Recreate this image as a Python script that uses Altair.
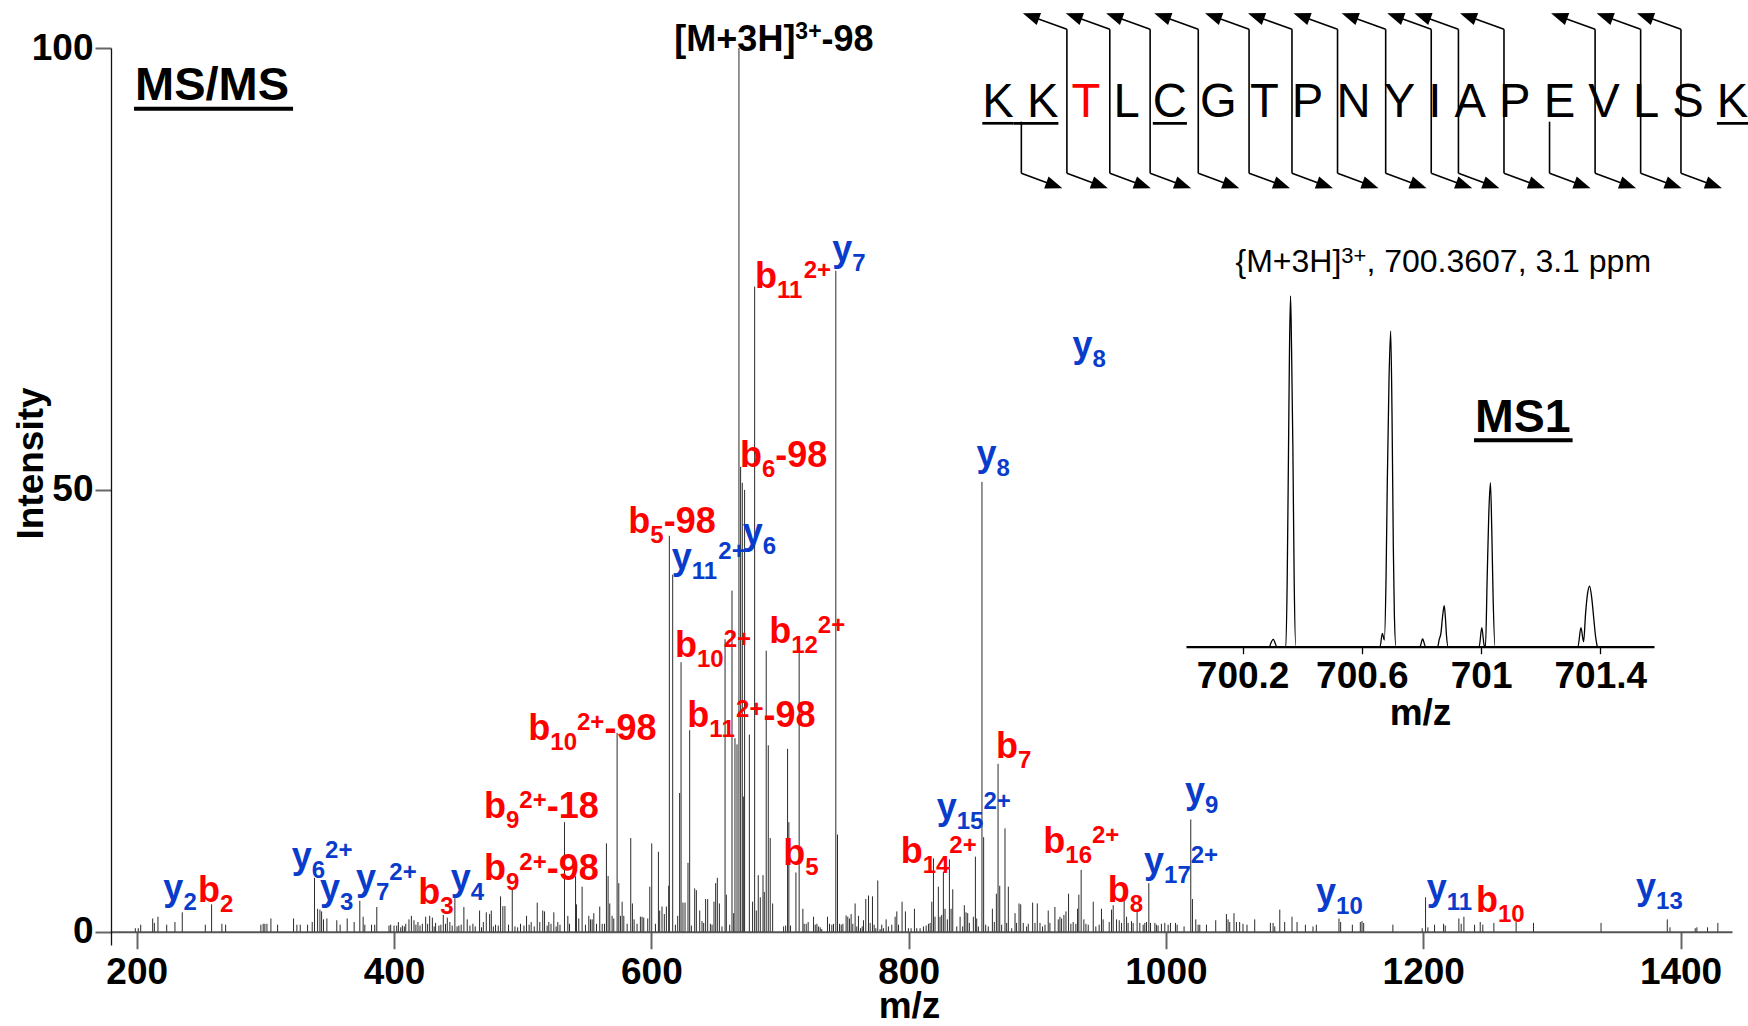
import math
import altair as alt
import pandas as pd

FONT = "Liberation Sans"
RED = "#ff0000"
BLUE = "#0a3ccc"
BLACK = "#000000"
STICK = "#2b2b2b"

# ---------------------------------------------------------------- MS/MS peaks
# centroided fragment spectrum: (m/z, relative intensity %)
peaks_200_530 = [
    (198.9, 0.4), (201.2, 0.4), (203.1, 0.8), (212.4, 1.5), (213.7, 1.0), (216.5, 1.7),
    (223.3, 0.8), (229.7, 1.1), (235.4, 2.2), (253.3, 0.8), (258.2, 3.1), (266.2, 0.9),
    (269.1, 0.8), (296.5, 0.8), (298.3, 0.9), (299.6, 0.9), (301.2, 0.9), (304.3, 1.5),
    (309.5, 0.8), (321.9, 1.5), (324.5, 0.8), (327.1, 0.8), (332.8, 0.8), (336.4, 1.1),
    (338.2, 6.1), (340.6, 2.6), (342.4, 2.5), (343.7, 2.3), (345.2, 1.4), (347.8, 1.5),
    (355.5, 1.3), (358.1, 0.8), (363.6, 1.5), (369.0, 1.1), (373.4, 3.5), (376.0, 1.7),
    (377.3, 0.8), (382.5, 0.8), (385.0, 0.8), (386.6, 2.8), (396.1, 0.7), (397.4, 0.8),
    (400.0, 0.7), (402.1, 0.7), (403.4, 1.1), (405.2, 0.5), (406.5, 0.7), (408.0, 0.6),
    (409.1, 0.9), (411.6, 1.4), (413.5, 1.8), (415.5, 1.3), (417.0, 0.8), (418.6, 1.1),
    (420.2, 0.7), (422.0, 0.9), (424.6, 1.7), (426.1, 0.9), (427.7, 1.8), (429.8, 1.6),
    (431.2, 0.6), (432.3, 1.0), (434.9, 0.7), (436.4, 0.8), (438.3, 1.9), (440.0, 0.9),
    (441.4, 1.6), (443.4, 1.1), (445.2, 0.7), (447.3, 3.8), (449.0, 0.6), (450.4, 0.7),
    (452.2, 0.8), (454.3, 2.8), (456.9, 1.4), (459.0, 0.7), (461.3, 0.9), (463.1, 0.6),
    (466.5, 2.4), (468.0, 0.5), (469.4, 1.1), (471.7, 2.2), (474.3, 2.0), (475.6, 2.4),
    (477.2, 0.6), (478.9, 0.8), (481.0, 0.7), (482.8, 4.0), (484.6, 2.9), (486.2, 2.9),
    (489.0, 0.8), (491.9, 4.8), (494.0, 0.6), (496.1, 0.5), (498.3, 0.9), (501.0, 0.7),
    (503.0, 1.8), (505.0, 0.8), (506.6, 1.1), (509.0, 0.6), (511.3, 3.3), (513.3, 1.1),
    (515.6, 2.4), (517.0, 2.3), (519.0, 0.7), (520.3, 1.1), (522.0, 0.9), (524.2, 2.2),
    (526.0, 0.6), (527.3, 1.1), (529.0, 0.8),
]
peaks_530_716 = [
    (532.5, 12.4), (535.1, 1.8), (536.4, 0.9), (541.1, 6.3), (541.8, 3.1), (543.6, 1.5),
    (546.2, 5.1), (548.8, 0.8), (551.4, 1.8), (552.7, 1.4), (554.0, 1.4), (555.3, 2.1),
    (557.4, 0.9), (559.9, 2.85), (561.8, 0.9), (563.6, 0.9), (565.1, 10.0), (566.4, 6.3),
    (567.7, 3.2), (569.5, 1.8), (570.8, 1.5), (573.4, 22.5), (574.7, 5.5), (576.0, 1.8),
    (577.3, 3.4), (578.6, 1.8), (581.2, 0.9), (584.0, 10.6), (585.3, 3.2), (586.6, 1.4),
    (588.9, 0.9), (591.5, 1.7), (592.8, 1.7), (594.1, 1.6), (597.2, 1.5), (598.8, 5.1),
    (600.3, 10.0), (603.2, 0.9), (605.5, 9.05), (606.5, 2.4), (608.3, 2.85), (610.1, 2.0),
    (611.7, 2.85), (613.5, 5.2), (614.0, 44.8), (616.6, 40.4), (618.7, 0.8), (620.5, 1.8),
    (622.0, 15.7), (623.1, 30.5), (624.6, 3.3), (626.2, 3.3), (628.5, 7.8), (629.8, 22.8),
    (631.1, 0.7), (633.7, 4.9), (635.0, 4.7), (637.6, 2.4), (639.4, 1.2), (640.7, 1.0),
    (642.2, 3.7), (643.8, 3.7), (645.9, 0.9), (647.2, 0.8), (648.7, 3.4), (650.0, 5.5),
    (651.3, 6.1), (652.9, 3.2), (654.9, 0.6), (657.3, 33.1), (658.3, 4.2), (660.9, 0.8),
    (662.7, 38.6), (664.0, 2.1), (665.0, 21.9), (666.6, 21.2), (668.1, 100.0), (669.4, 52.6),
    (670.7, 50.8), (671.5, 15.3), (672.5, 50.0), (676.2, 22.3), (678.7, 3.4), (680.3, 73.0),
    (681.6, 2.4), (683.1, 6.4), (684.7, 3.9), (686.8, 6.4), (687.8, 4.5), (689.3, 31.8),
    (690.9, 21.1), (692.4, 10.6), (694.3, 3.2), (702.8, 0.6), (704.4, 0.7), (705.9, 20.7),
    (706.9, 12.4), (708.2, 0.7), (712.4, 6.7), (714.9, 31.6),
]
peaks_716_1073 = [
    (717.8, 2.6), (718.8, 0.9), (720.4, 0.9), (721.9, 1.1), (726.1, 1.7), (727.4, 0.8),
    (728.7, 0.9), (730.0, 0.6), (731.3, 0.5), (732.5, 0.3), (736.9, 1.7), (738.5, 0.9),
    (740.3, 0.8), (741.6, 0.9), (743.4, 74.8), (744.7, 11.0), (746.3, 0.9), (747.6, 0.8),
    (748.9, 0.9), (751.4, 1.85), (752.7, 1.7), (754.0, 1.5), (755.3, 2.0), (756.6, 0.9),
    (758.4, 3.2), (759.7, 0.6), (761.0, 1.8), (762.6, 0.4), (763.9, 0.6), (764.9, 1.3),
    (766.7, 3.7), (768.8, 4.1), (770.1, 1.0), (771.9, 4.0), (773.2, 0.8), (774.5, 0.4),
    (776.0, 5.8), (777.8, 0.3), (779.1, 0.8), (780.4, 0.4), (782.5, 1.4), (784.3, 0.6),
    (786.9, 0.8), (789.5, 1.7), (790.8, 2.3), (792.1, 0.8), (794.9, 3.4), (797.5, 2.3),
    (799.8, 0.4), (801.9, 0.4), (804.5, 2.6), (806.3, 0.4), (808.9, 0.4), (811.5, 0.6),
    (813.6, 0.7), (815.4, 0.9), (816.7, 1.0), (818.0, 3.4), (819.3, 8.3), (820.5, 1.7),
    (823.1, 5.1), (824.4, 1.7), (825.7, 1.9), (827.0, 6.8), (828.3, 2.6), (830.1, 1.4),
    (831.7, 8.2), (833.0, 2.6), (834.3, 4.8), (837.4, 0.6), (840.0, 1.7), (842.0, 0.6),
    (843.3, 3.0), (844.6, 2.2), (845.9, 2.1), (847.2, 1.0), (850.3, 1.7), (851.9, 8.5),
    (852.9, 1.5), (854.2, 0.6), (857.0, 50.9), (858.3, 10.7), (859.9, 0.8), (861.9, 0.6),
    (865.1, 2.6), (866.6, 1.1), (868.2, 4.3), (869.5, 19.0), (870.8, 5.2), (872.3, 0.8),
    (874.9, 11.7), (876.2, 1.0), (877.5, 5.1), (880.1, 0.4), (882.7, 2.1), (883.9, 1.0),
    (885.8, 3.2), (887.1, 3.1), (889.1, 1.0), (891.7, 0.6), (893.0, 0.9), (896.4, 3.3),
    (898.2, 1.0), (900.0, 3.2), (902.1, 1.0), (904.1, 0.6), (906.0, 0.8), (908.5, 2.4),
    (909.8, 1.0), (913.7, 2.8), (916.3, 1.4), (917.6, 1.7), (918.9, 1.5), (920.7, 1.9),
    (922.3, 2.3), (924.3, 4.3), (926.1, 0.9), (927.9, 1.1), (930.0, 0.9), (931.3, 2.6),
    (932.3, 4.2), (934.1, 7.0), (936.2, 1.4), (937.8, 0.9), (939.6, 0.8), (943.5, 3.4),
    (945.5, 0.6), (948.1, 0.8), (949.9, 2.6), (951.2, 1.4), (955.9, 1.1), (957.7, 2.5),
    (959.0, 3.0), (961.6, 1.4), (963.7, 1.3), (965.5, 1.0), (967.5, 3.6), (969.4, 1.7),
    (970.6, 1.0), (973.2, 1.2), (974.5, 1.0), (977.6, 2.6), (979.7, 1.0), (982.3, 0.8),
    (983.6, 1.0), (984.9, 1.1), (986.7, 5.5), (988.0, 1.0), (991.4, 1.0), (992.6, 0.8),
    (993.9, 0.7), (996.5, 0.9), (999.1, 1.0), (1001.7, 0.8), (1003.5, 1.0), (1007.4, 1.0),
    (1008.7, 0.8), (1014.1, 0.6), (1019.3, 12.7), (1020.6, 3.7), (1023.2, 1.4), (1025.0, 0.8),
    (1026.3, 0.8), (1031.5, 0.8), (1038.7, 1.3), (1047.0, 2.0), (1048.3, 1.4), (1049.6, 1.1),
    (1052.9, 2.1), (1054.8, 1.1), (1057.3, 1.1), (1059.9, 0.9), (1063.0, 0.8), (1069.0, 1.4),
]
peaks_1073_1440 = [
    (1081.2, 1.0), (1083.3, 1.0), (1084.6, 0.6), (1088.5, 2.5), (1092.3, 1.1), (1098.0, 1.7),
    (1101.9, 1.1), (1108.4, 0.8), (1114.3, 0.6), (1116.9, 0.8), (1134.5, 1.5), (1135.8, 1.1),
    (1144.9, 0.8), (1151.1, 1.1), (1152.4, 1.2), (1153.7, 1.0), (1176.4, 0.8), (1199.2, 0.4),
    (1201.8, 3.9), (1203.6, 0.5), (1208.8, 0.8), (1215.8, 0.9), (1217.1, 0.7), (1227.7, 1.5),
    (1229.5, 0.9), (1231.6, 1.7), (1239.9, 0.8), (1244.3, 1.1), (1246.3, 0.8), (1254.9, 1.0),
    (1272.2, 1.1), (1285.7, 1.0), (1338.2, 1.0), (1389.7, 1.4), (1391.8, 0.5), (1411.4, 0.4),
    (1412.7, 0.5), (1421.0, 0.5), (1429.0, 1.0),
]

# ------------------------------------------------------- assigned fragment ions
ion_kind = ["y", "b", "y", "y", "y", "b", "y", "b", "b", "b", "b", "y", "y", "b", "b", "b", "b",
            "b", "b", "y", "y", "b", "b", "b", "y", "y", "b", "y", "y", "b", "y", "y", "y"]
ion_number = ["2", "2", "6", "3", "7", "3", "4", "9", "9", "10", "5", "11", "6", "10", "11", "12", "5",
              "6", "11", "7", "15", "14", "16", "8", "17", "9", "7", "10", "11", "10", "13", "8", "8"]
ion_charge = ["", "", "2+", "", "2+", "", "", "2+", "2+", "2+", "", "2+", "", "2+", "2+", "2+", "",
              "", "2+", "", "2+", "2+", "2+", "", "2+", "", "", "", "", "", "", "", ""]
ion_loss = ["", "", "", "", "", "", "", "-98", "-18", "-98", "-98", "", "", "", "-98", "", "",
            "-98", "", "", "", "", "", "", "", "", "", "", "", "", "", "", ""]
# where each annotation sits: left edge (m/z) and text baseline (intensity)
ion_label_mz = [220.7, 247.6, 320.5, 342.5, 370.4, 418.9, 444.0, 469.9, 469.9, 504.4, 582.1,
                615.8, 671.0, 618.4, 628.0, 691.6, 702.6, 668.9, 680.6, 740.7, 821.8, 793.8,
                904.7, 954.7, 983.0, 1014.8, 867.9, 1116.7, 1202.7, 1241.0, 1365.4, 927.3, 852.8]
ion_label_int = [3.55, 3.40, 7.21, 3.60, 4.72, 3.14, 4.78, 5.86, 12.84, 21.70, 45.08,
                 41.08, 43.87, 31.12, 23.20, 32.67, 7.55, 52.62, 72.81, 75.95, 12.72, 7.83,
                 8.94, 3.40, 6.61, 14.53, 19.69, 3.14, 3.60, 2.27, 3.68, 65.03, 52.70]
precursor_label = ("[M+3H]", "3+", "-98")
precursor_label_at = (617.9, 99.69)

# -------------------------------------------------- MS1 isotope envelope (profile)
ms1_mz = [700.2905, 700.3028, 700.3150,
          700.3450, 700.3495, 700.3540, 700.3573, 700.3607, 700.3640, 700.3685, 700.3729, 700.3785,
          700.6609, 700.6687, 700.6754, 700.6810, 700.6854, 700.6910, 700.6966, 700.7011,
          700.7055, 700.7089, 700.7145,
          700.7948, 700.8037, 700.8138,
          700.8540, 700.8595, 700.8651, 700.8707, 700.8763, 700.8807, 700.8841, 700.8896,
          700.9934, 701.0023, 701.0101, 701.0146, 701.0202, 701.0258, 701.0313, 701.0358,
          701.0402, 701.0469,
          701.3248, 701.3349, 701.3438, 701.3505, 701.3572, 701.3639, 701.3706, 701.3784,
          701.3840, 701.3896]
ms1_rel = [0, 2.1, 0,
           0, 19.0, 57.0, 85.6, 100, 85.6, 57.0, 19.0, 0,
           0, 3.8, 1.9, 19.0, 47.5, 76.0, 90.0, 66.5, 28.5, 9.5, 0,
           0, 2.2, 0,
           0, 2.1, 3.8, 8.6, 11.7, 7.6, 2.9, 0,
           0, 5.4, 0.5, 0, 19.0, 38.0, 46.8, 33.3, 14.3, 0,
           0, 5.4, 1.4, 9.5, 15.2, 17.3, 14.3, 7.6, 2.9, 0]
ms1_ticks = [700.2, 700.6, 701.0, 701.4]
ms1_title = ("{M+3H]", "3+", ", 700.3607, 3.1 ppm")

# ------------------------------------------------------------------ peptide
sequence = "KKTLCGTPNYIAPEVLSK"
phospho_residue = 3            # 1-based
underlined_residues = [1, 2, 5, 18]
b_sites = list(range(1, 17))   # cleavage after residue n
y_sites = list(range(2, 13)) + [14, 15, 16]

# ================================================================= geometry
LEFT, TOP, PLOT_W, PLOT_H = 111, 48, 1621, 897
TOTAL_W, TOTAL_H = 1748, 1026
MZ_DOM = [180, 1440]
INT_DOM = [-1.5, 100]
PX_PER_MZ = PLOT_W / (MZ_DOM[1] - MZ_DOM[0])
PX_PER_INT = PLOT_H / (INT_DOM[1] - INT_DOM[0])
X_AXIS_OFFSET = INT_DOM[0] * PX_PER_INT   # lift the m/z axis up to intensity 0


def mz_at(px):
    return MZ_DOM[0] + (px - LEFT) / PX_PER_MZ


def int_at(py):
    return INT_DOM[1] - (py - TOP) / PX_PER_INT


def px_of(mz):
    return LEFT + (mz - MZ_DOM[0]) * PX_PER_MZ


def py_of(v):
    return TOP + (INT_DOM[1] - v) * PX_PER_INT


BOLD_ADV = {"b": .611, "y": .556, "+": .584, "-": .333, "[": .333, "]": .333, "M": .833,
            "H": .722, "S": .667, "/": .278}
REG_ADV = {"K": .667, "T": .611, "L": .556, "C": .722, "G": .778, "P": .667, "N": .722,
           "Y": .667, "I": .278, "A": .667, "E": .667, "V": .667, "S": .667, " ": .278,
           "{": .334, "M": .833, "+": .584, "H": .722, "]": .278, ",": .278, ".": .278,
           "p": .556, "m": .833}


def text_w(s, size, table):
    return sum(table.get(c, .556) for c in s) * size


# ---- sticks
sticks = pd.DataFrame(peaks_200_530 + peaks_530_716 + peaks_716_1073 + peaks_1073_1440,
                      columns=["mz", "inten"])
sticks["base"] = 0.0

# ---- bold annotation pieces (letter, subscript, superscript, neutral loss)
bold_rows = []


def add_label(parts, left_px, base_py, color):
    x = left_px
    for txt, size, shift in parts:
        if txt:
            bold_rows.append(dict(mz=mz_at(x), inten=int_at(base_py + shift), txt=txt,
                                  fs=size, col=color))
            x += text_w(txt, size, BOLD_ADV)


for k, n, z, loss, lmz, lint in zip(ion_kind, ion_number, ion_charge, ion_loss,
                                    ion_label_mz, ion_label_int):
    add_label([(k, 36, 0), (n, 24, 10), (z, 24, -10), (loss, 36, 0)],
              px_of(lmz), py_of(lint), RED if k == "b" else BLUE)

add_label([(precursor_label[0], 36, 0), (precursor_label[1], 23, -12), (precursor_label[2], 36, 0)],
          px_of(precursor_label_at[0]), py_of(precursor_label_at[1]), BLACK)

# panel headings
deco = []
add_label([("MS/MS", 47, 0)], 135, 100, BLACK)
deco.append(dict(mz=mz_at(134), inten=int_at(108.8), mz2=mz_at(135 + text_w("MS/MS", 47, BOLD_ADV) + 4),
                 inten2=int_at(108.8), sw=4))
add_label([("MS1", 46.5, 0)], 1475, 431.7, BLACK)
deco.append(dict(mz=mz_at(1474), inten=int_at(440.3), mz2=mz_at(1475 + text_w("MS1", 46.5, BOLD_ADV) + 2),
                 inten2=int_at(440.3), sw=4))
bold_df = pd.DataFrame(bold_rows)

# ---- regular text: sequence letters and MS1 caption
reg_rows = []
SEQ_FS, SEQ_X0, SEQ_BASE = 47.2, 982.3, 116.7
lefts, rights = [], []
cur = SEQ_X0
for i, aa in enumerate(sequence):
    lefts.append(cur)
    rights.append(cur + REG_ADV[aa] * SEQ_FS)
    reg_rows.append(dict(mz=mz_at(cur), inten=int_at(SEQ_BASE), txt=aa, fs=SEQ_FS,
                         col=RED if i + 1 == phospho_residue else BLACK))
    cur += (REG_ADV[aa] + REG_ADV[" "]) * SEQ_FS

x = 1235.5
for txt, size, shift in [(ms1_title[0], 32, 0), (ms1_title[1], 22, -8.5), (ms1_title[2], 32, 0)]:
    reg_rows.append(dict(mz=mz_at(x), inten=int_at(271.7 + shift), txt=txt, fs=size, col=BLACK))
    x += text_w(txt, size, REG_ADV)
reg_df = pd.DataFrame(reg_rows)

# underlines under modified residues
for r in underlined_residues:
    x_start = lefts[r - 1] if (r - 1) not in underlined_residues else rights[r - 2]
    deco.append(dict(mz=mz_at(x_start), inten=int_at(123.3), mz2=mz_at(rights[r - 1]),
                     inten2=int_at(123.3), sw=2.7))

# fragmentation brackets
Y_TIP, Y_BEND, B_BEND, B_TIP, B_ONLY_TOP = 13.3, 29.3, 173.3, 188.3, 121.7
heads = []
HEAD_HALF = 8.5


def add_head(tip_x, tip_y, dx, dy):
    L = math.hypot(dx, dy)
    cx, cy = tip_x - HEAD_HALF * dx / L, tip_y - HEAD_HALF * dy / L
    ang = math.degrees(math.atan2(dx, -dy)) % 360
    heads.append(dict(mz=mz_at(cx), inten=int_at(cy), ang=ang))
    return cx, cy


for s in sorted(set(b_sites) | set(y_sites)):
    xv = (rights[s - 1] + lefts[s]) / 2 + 1 + 0.95 * (s - 1)
    top = Y_BEND if s in y_sites else B_ONLY_TOP
    deco.append(dict(mz=mz_at(xv), inten=int_at(top), mz2=mz_at(xv), inten2=int_at(B_BEND), sw=1.6))
    if s in y_sites:
        cx, cy = add_head(xv - 44, Y_TIP, -44, Y_TIP - Y_BEND)
        deco.append(dict(mz=mz_at(xv), inten=int_at(Y_BEND), mz2=mz_at(cx), inten2=int_at(cy), sw=1.6))
    if s in b_sites:
        cx, cy = add_head(xv + 41, B_TIP, 41, B_TIP - B_BEND)
        deco.append(dict(mz=mz_at(xv), inten=int_at(B_BEND), mz2=mz_at(cx), inten2=int_at(cy), sw=1.6))

deco_df = pd.DataFrame(deco)
heads_df = pd.DataFrame(heads)

# ================================================================ main spectrum
x_main = alt.X(
    "mz:Q", title="m/z",
    scale=alt.Scale(domain=MZ_DOM, nice=False, zero=False),
    axis=alt.Axis(values=[200, 400, 600, 800, 1000, 1200, 1400], format="d", grid=False,
                  offset=X_AXIS_OFFSET, tickSize=17, tickWidth=2, tickColor="#666666",
                  domainColor="#555555", domainWidth=2, labelFontSize=37,
                  labelFontWeight="bold", labelColor="black", labelPadding=6,
                  labelFlush=False, labelOverlap=False,
                  titleFontSize=37, titleFontWeight="bold", titleColor="black",
                  titleX=798, titleY=86, titleBaseline="alphabetic"),
)
y_main = alt.Y(
    "inten:Q", title="Intensity",
    scale=alt.Scale(domain=INT_DOM, nice=False, zero=False),
    axis=alt.Axis(values=[0, 50, 100], grid=False, tickSize=16, tickWidth=2,
                  tickColor="#666666", domainColor="#111111", domainWidth=1.3,
                  labelFontSize=37, labelFontWeight="bold", labelColor="black", labelPadding=2,
                  titleFontSize=37, titleFontWeight="bold", titleColor="black",
                  titleAngle=270, titleX=-80, titleY=415, titleAlign="center",
                  titleBaseline="middle"),
)

stick_layer = alt.Chart(sticks).mark_rule(color=STICK, strokeWidth=1).encode(
    x=x_main, y=y_main, y2="base:Q")

deco_layer = alt.Chart(deco_df).mark_rule(color="black").encode(
    x=alt.X("mz:Q", title="m/z"), y=alt.Y("inten:Q", title="Intensity"),
    x2="mz2:Q", y2="inten2:Q", strokeWidth=alt.StrokeWidth("sw:Q", scale=None))

head_layer = alt.Chart(heads_df).mark_point(
    shape="M0,-1L0.75,1L-0.75,1Z", filled=True, size=(2 * HEAD_HALF) ** 2, color="black",
    opacity=1, strokeWidth=0
).encode(x=alt.X("mz:Q", title="m/z"), y=alt.Y("inten:Q", title="Intensity"),
         angle=alt.Angle("ang:Q", scale=None))

bold_layer = alt.Chart(bold_df).mark_text(
    font=FONT, fontWeight="bold", align="left", baseline="alphabetic"
).encode(x=alt.X("mz:Q", title="m/z"), y=alt.Y("inten:Q", title="Intensity"), text="txt:N",
         size=alt.Size("fs:Q", scale=None), color=alt.Color("col:N", scale=None))

reg_layer = alt.Chart(reg_df).mark_text(
    font=FONT, fontWeight="normal", align="left", baseline="alphabetic"
).encode(x=alt.X("mz:Q", title="m/z"), y=alt.Y("inten:Q", title="Intensity"), text="txt:N",
         size=alt.Size("fs:Q", scale=None), color=alt.Color("col:N", scale=None))

main = alt.layer(stick_layer, deco_layer, head_layer, reg_layer, bold_layer)

# ================================================================ MS1 inset
INSET_RANGE_X = [1186 - LEFT, 1654 - LEFT]
INSET_RANGE_Y = [646.7 - TOP, 296 - TOP]
ms1_df = pd.DataFrame({"mz": ms1_mz, "rel": ms1_rel})
inset = alt.Chart(ms1_df).mark_line(color="black", strokeWidth=1.3, interpolate="monotone").encode(
    x=alt.X("mz:Q", title="m/z",
            scale=alt.Scale(domain=[700.01, 701.58], range=INSET_RANGE_X, nice=False, zero=False),
            axis=alt.Axis(orient="bottom", offset=INSET_RANGE_Y[0] - PLOT_H, values=ms1_ticks,
                          format=".4~r", grid=False, tickSize=7, tickWidth=1.3, tickColor="black",
                          domainColor="black", domainWidth=2.2, labelFontSize=37,
                          labelFontWeight="bold", labelColor="black", labelPadding=5,
                          labelFlush=False, labelOverlap=False, titleFontSize=37,
                          titleFontWeight="bold", titleColor="black", titleY=78,
                          titleBaseline="alphabetic")),
    y=alt.Y("rel:Q", scale=alt.Scale(domain=[0, 100], range=INSET_RANGE_Y, nice=False), axis=None),
)

chart = alt.layer(main, inset).resolve_scale(x="independent", y="independent").properties(
    width=PLOT_W, height=PLOT_H,
    padding={"left": LEFT, "top": TOP, "right": TOTAL_W - LEFT - PLOT_W,
             "bottom": TOTAL_H - TOP - PLOT_H},
    autosize=alt.AutoSizeParams(type="none"),
    background="white",
).configure_view(stroke=None).configure_axis(labelFont=FONT, titleFont=FONT)

chart.save("out.html", embed_options={"renderer": "svg", "actions": False})
